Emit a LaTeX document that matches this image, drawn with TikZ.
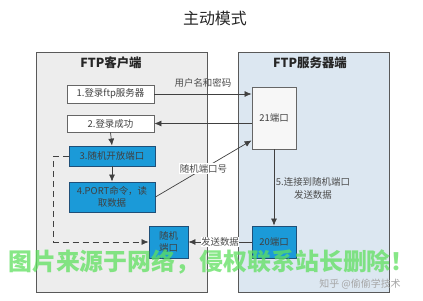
\documentclass[tikz,border=0pt]{standalone}
\usepackage{fontspec}
\setmainfont{Noto Sans CJK SC}
\usetikzlibrary{arrows.meta}
\definecolor{panelgray}{HTML}{EDEDED}
\definecolor{panelblue}{HTML}{DCE7F1}
\definecolor{boxblue}{HTML}{1B9AD8}
\definecolor{boxbluedark}{HTML}{1F4F78}
\definecolor{wmgreen}{HTML}{5FE05F}
\begin{document}
\begin{tikzpicture}[x=1bp,y=-1bp,
  panel/.style={draw=black!65, line width=0.9bp},
  wbox/.style={draw=black!60, fill=white, line width=0.8bp, align=center, inner sep=0pt,
    font=\fontsize{9.5}{11}\selectfont, text=black!75},
  bbox/.style={draw=boxbluedark, fill=boxblue, line width=0.8bp, align=center, inner sep=0pt,
    font=\fontsize{9.5}{12}\selectfont, text=black!75},
  arr/.style={draw=black!75, line width=0.7bp, -{Latex[length=7bp,width=6bp]}},
  lbl/.style={font=\fontsize{9.5}{13}\selectfont, text=black!70, align=center, inner sep=1pt},
  head/.style={font=\fontsize{12.5}{14}\selectfont\bfseries, text=black!85}
]
\useasboundingbox (0,0) rectangle (423,301);
\fill[white] (0,0) rectangle (423,301);
% title
\node[font=\fontsize{16}{18}\selectfont, text=black!85] (title) at (215,18) {主动模式};
% panels
\draw[panel, fill=panelgray] (36,52) rectangle (207,292);
\draw[panel, fill=panelblue] (238,52) rectangle (389,292);
\node[head] (hl) at (111,63) {FTP客户端};
\node[head] (hr) at (310,63) {FTP服务器端};
% boxes
\node[wbox, minimum width=87bp, minimum height=18bp] (b1) at (110.5,94) {1.登录ftp服务器};
\node[wbox, minimum width=87bp, minimum height=17bp] (b2) at (110.5,123.5) {2.登录成功};
\node[bbox, minimum width=86bp, minimum height=20bp] (b3) at (112,156) {3.随机开放端口};
\node[bbox, minimum width=86bp, minimum height=30bp] (b4) at (112,197) {4.PORT命令，读\\取数据};
\node[bbox, minimum width=39bp, minimum height=32bp] (rp) at (168.5,242) {随机\\端口};
\node[wbox, fill=black!3, minimum width=44bp, minimum height=62bp] (p21) at (274,118) {21端口};
\node[bbox, minimum width=44bp, minimum height=32bp] (p20) at (274,242) {20端口};
% connectors
\draw[arr] (b1.east) -- (b1.east -| p21.west);
\node[lbl] (l1) at (203,83) {用户名和密码};
\draw[arr] (b2.east -| p21.west) -- (b2.east);
\draw[arr] (b2.south) -- (b3.north);
\draw[arr] (b3.south) -- (b4.north);
\coordinate (p21in) at ([yshift=9bp]p21.south west);
\draw[arr] (b4.east) -- node[lbl, fill=white, pos=0.5] (l2) {随机端口号} (p21in);
\draw[arr] (p21.south) -- (p20.north);
\node[lbl] (l3) at (313,188) {5.连接到随机端口\\发送数据};
\draw[arr] (p20.west) -- node[lbl, fill=white, pos=0.5, inner sep=0.5pt] (l4) {发送数据} (rp.east);
\draw[arr, dash pattern=on 6bp off 4bp] (b3.west) -- ++(-15,0) |- (rp.west);
% watermarks
\node[font=\fontsize{24}{26}\selectfont\bfseries, text=wmgreen, text opacity=0.75] (wm) at (211.5,262) {图片来源于网络，侵权联系站长删除！};
\node[font=\fontsize{10}{12}\selectfont, text=black!35] (zh) at (360,284) {知乎 @偷偷学技术};
\end{tikzpicture}
\end{document}
